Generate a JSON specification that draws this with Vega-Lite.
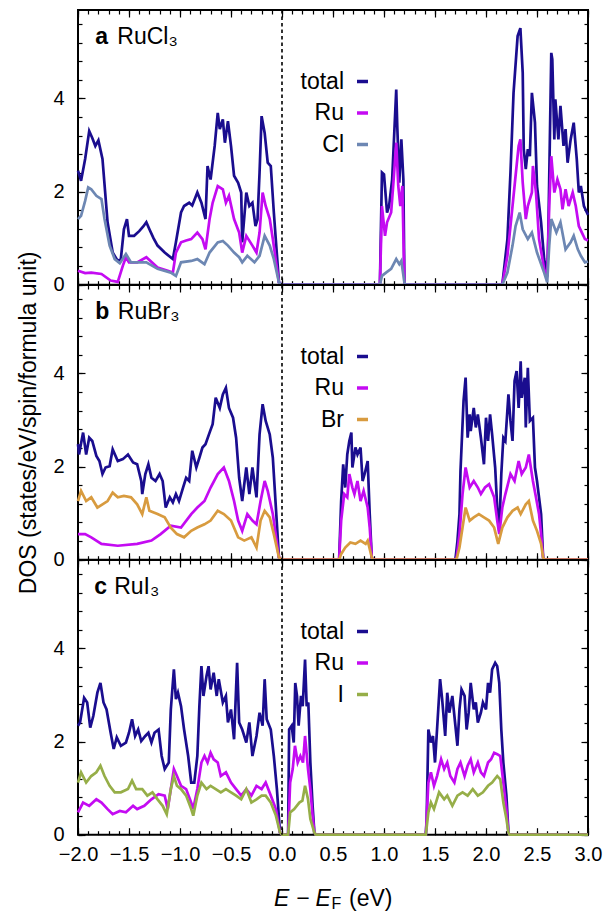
{
"$schema": "https://vega.github.io/schema/vega-lite/v6.json",
"padding": {"left": 16, "top": 8, "right": 5, "bottom": 0},
"config": {"font": "Liberation Sans", "view": {"stroke": "black", "strokeWidth": 2}, "axis": {"domain": false, "grid": false, "tickColor": "black", "tickWidth": 1.2, "labelFont": "Liberation Sans", "labelFontSize": 20, "labelColor": "black", "labels": false, "labelFlush": false, "labelOverlap": false}},
"datasets": {
"one": [{}],
"a": [
{"s":"total","x":-2.0,"y":2.45},{"s":"total","x":-1.97,"y":2.23},{"s":"total","x":-1.93,"y":2.7},{"s":"total","x":-1.89,"y":3.3},{"s":"total","x":-1.86,"y":3.15},{"s":"total","x":-1.83,"y":2.98},{"s":"total","x":-1.8,"y":3.1},{"s":"total","x":-1.76,"y":2.7},{"s":"total","x":-1.71,"y":1.34},{"s":"total","x":-1.66,"y":0.69},{"s":"total","x":-1.61,"y":0.51},{"s":"total","x":-1.58,"y":0.55},{"s":"total","x":-1.55,"y":1.19},{"s":"total","x":-1.52,"y":1.41},{"s":"total","x":-1.5,"y":1.05},{"s":"total","x":-1.45,"y":1.05},{"s":"total","x":-1.4,"y":1.15},{"s":"total","x":-1.36,"y":1.25},{"s":"total","x":-1.33,"y":1.34},{"s":"total","x":-1.3,"y":1.19},{"s":"total","x":-1.26,"y":1.0},{"s":"total","x":-1.22,"y":0.84},{"s":"total","x":-1.15,"y":0.69},{"s":"total","x":-1.07,"y":0.55},{"s":"total","x":-1.04,"y":0.91},{"s":"total","x":-0.99,"y":1.55},{"s":"total","x":-0.96,"y":1.69},{"s":"total","x":-0.91,"y":1.76},{"s":"total","x":-0.88,"y":1.7},{"s":"total","x":-0.83,"y":1.98},{"s":"total","x":-0.79,"y":1.76},{"s":"total","x":-0.75,"y":1.41},{"s":"total","x":-0.73,"y":2.55},{"s":"total","x":-0.7,"y":2.26},{"s":"total","x":-0.66,"y":2.98},{"s":"total","x":-0.63,"y":3.69},{"s":"total","x":-0.61,"y":3.34},{"s":"total","x":-0.58,"y":3.55},{"s":"total","x":-0.56,"y":3.05},{"s":"total","x":-0.53,"y":3.51},{"s":"total","x":-0.5,"y":2.98},{"s":"total","x":-0.47,"y":2.34},{"s":"total","x":-0.43,"y":2.19},{"s":"total","x":-0.4,"y":1.98},{"s":"total","x":-0.39,"y":0.91},{"s":"total","x":-0.35,"y":1.98},{"s":"total","x":-0.32,"y":1.69},{"s":"total","x":-0.29,"y":1.76},{"s":"total","x":-0.26,"y":1.26},{"s":"total","x":-0.24,"y":1.4},{"s":"total","x":-0.22,"y":2.41},{"s":"total","x":-0.2,"y":3.62},{"s":"total","x":-0.17,"y":3.26},{"s":"total","x":-0.14,"y":2.62},{"s":"total","x":-0.11,"y":2.55},{"s":"total","x":-0.08,"y":1.55},{"s":"total","x":-0.03,"y":0.05},{"s":"total","x":0.0,"y":0},{"s":"total","x":0.96,"y":0},{"s":"total","x":0.98,"y":2.41},{"s":"total","x":1.0,"y":2.37},{"s":"total","x":1.03,"y":1.55},{"s":"total","x":1.05,"y":1.69},{"s":"total","x":1.08,"y":2.26},{"s":"total","x":1.12,"y":4.19},{"s":"total","x":1.13,"y":3.41},{"s":"total","x":1.15,"y":2.19},{"s":"total","x":1.17,"y":3.12},{"s":"total","x":1.19,"y":2.26},{"s":"total","x":1.2,"y":0.05},{"s":"total","x":1.21,"y":0},{"s":"total","x":2.16,"y":0},{"s":"total","x":2.21,"y":0.98},{"s":"total","x":2.24,"y":2.41},{"s":"total","x":2.27,"y":4.12},{"s":"total","x":2.31,"y":5.34},{"s":"total","x":2.337,"y":5.51},{"s":"total","x":2.36,"y":4.55},{"s":"total","x":2.37,"y":2.91},{"s":"total","x":2.39,"y":2.48},{"s":"total","x":2.41,"y":2.91},{"s":"total","x":2.43,"y":2.76},{"s":"total","x":2.45,"y":4.12},{"s":"total","x":2.48,"y":3.48},{"s":"total","x":2.5,"y":2.12},{"s":"total","x":2.54,"y":1.34},{"s":"total","x":2.57,"y":0.55},{"s":"total","x":2.6,"y":0.19},{"s":"total","x":2.61,"y":0.98},{"s":"total","x":2.64,"y":4.98},{"s":"total","x":2.65,"y":4.84},{"s":"total","x":2.67,"y":3.12},{"s":"total","x":2.68,"y":3.98},{"s":"total","x":2.71,"y":3.12},{"s":"total","x":2.73,"y":3.84},{"s":"total","x":2.76,"y":2.98},{"s":"total","x":2.78,"y":3.34},{"s":"total","x":2.8,"y":2.62},{"s":"total","x":2.83,"y":3.12},{"s":"total","x":2.86,"y":3.48},{"s":"total","x":2.89,"y":2.69},{"s":"total","x":2.91,"y":1.98},{"s":"total","x":2.93,"y":2.12},{"s":"total","x":2.96,"y":1.69},{"s":"total","x":3.0,"y":1.5},
{"s":"Ru","x":-2.0,"y":0.3},{"s":"Ru","x":-1.93,"y":0.25},{"s":"Ru","x":-1.87,"y":0.26},{"s":"Ru","x":-1.77,"y":0.23},{"s":"Ru","x":-1.68,"y":0.09},{"s":"Ru","x":-1.61,"y":0.06},{"s":"Ru","x":-1.56,"y":0.41},{"s":"Ru","x":-1.53,"y":0.59},{"s":"Ru","x":-1.5,"y":0.48},{"s":"Ru","x":-1.42,"y":0.48},{"s":"Ru","x":-1.33,"y":0.59},{"s":"Ru","x":-1.22,"y":0.37},{"s":"Ru","x":-1.12,"y":0.3},{"s":"Ru","x":-1.07,"y":0.26},{"s":"Ru","x":-1.04,"y":0.69},{"s":"Ru","x":-0.99,"y":0.91},{"s":"Ru","x":-0.94,"y":0.95},{"s":"Ru","x":-0.89,"y":0.98},{"s":"Ru","x":-0.83,"y":1.12},{"s":"Ru","x":-0.78,"y":0.98},{"s":"Ru","x":-0.75,"y":0.76},{"s":"Ru","x":-0.71,"y":1.41},{"s":"Ru","x":-0.68,"y":1.76},{"s":"Ru","x":-0.63,"y":2.12},{"s":"Ru","x":-0.58,"y":2.05},{"s":"Ru","x":-0.55,"y":1.76},{"s":"Ru","x":-0.52,"y":1.91},{"s":"Ru","x":-0.47,"y":1.41},{"s":"Ru","x":-0.42,"y":1.12},{"s":"Ru","x":-0.39,"y":0.69},{"s":"Ru","x":-0.35,"y":1.05},{"s":"Ru","x":-0.29,"y":0.84},{"s":"Ru","x":-0.25,"y":0.69},{"s":"Ru","x":-0.22,"y":1.12},{"s":"Ru","x":-0.19,"y":1.98},{"s":"Ru","x":-0.16,"y":1.69},{"s":"Ru","x":-0.12,"y":1.41},{"s":"Ru","x":-0.09,"y":0.98},{"s":"Ru","x":-0.03,"y":0.05},{"s":"Ru","x":0.0,"y":0},{"s":"Ru","x":0.96,"y":0},{"s":"Ru","x":0.98,"y":1.69},{"s":"Ru","x":1.01,"y":1.05},{"s":"Ru","x":1.03,"y":1.34},{"s":"Ru","x":1.07,"y":1.55},{"s":"Ru","x":1.09,"y":2.12},{"s":"Ru","x":1.12,"y":3.05},{"s":"Ru","x":1.14,"y":2.12},{"s":"Ru","x":1.16,"y":1.69},{"s":"Ru","x":1.18,"y":2.12},{"s":"Ru","x":1.2,"y":0.05},{"s":"Ru","x":1.21,"y":0},{"s":"Ru","x":2.16,"y":0},{"s":"Ru","x":2.21,"y":0.62},{"s":"Ru","x":2.26,"y":1.69},{"s":"Ru","x":2.29,"y":2.34},{"s":"Ru","x":2.32,"y":2.98},{"s":"Ru","x":2.337,"y":3.12},{"s":"Ru","x":2.36,"y":2.19},{"s":"Ru","x":2.39,"y":1.41},{"s":"Ru","x":2.41,"y":1.69},{"s":"Ru","x":2.45,"y":1.98},{"s":"Ru","x":2.46,"y":2.55},{"s":"Ru","x":2.49,"y":1.98},{"s":"Ru","x":2.52,"y":0.98},{"s":"Ru","x":2.57,"y":0.34},{"s":"Ru","x":2.6,"y":0.16},{"s":"Ru","x":2.62,"y":1.69},{"s":"Ru","x":2.64,"y":2.76},{"s":"Ru","x":2.67,"y":1.98},{"s":"Ru","x":2.7,"y":2.26},{"s":"Ru","x":2.73,"y":2.05},{"s":"Ru","x":2.75,"y":1.62},{"s":"Ru","x":2.78,"y":2.05},{"s":"Ru","x":2.81,"y":1.69},{"s":"Ru","x":2.85,"y":1.98},{"s":"Ru","x":2.88,"y":1.69},{"s":"Ru","x":2.91,"y":1.26},{"s":"Ru","x":2.94,"y":1.12},{"s":"Ru","x":2.97,"y":0.98},{"s":"Ru","x":3.0,"y":0.95},
{"s":"Cl","x":-2.0,"y":1.41},{"s":"Cl","x":-1.97,"y":1.48},{"s":"Cl","x":-1.93,"y":1.8},{"s":"Cl","x":-1.9,"y":2.09},{"s":"Cl","x":-1.87,"y":2.05},{"s":"Cl","x":-1.82,"y":1.91},{"s":"Cl","x":-1.77,"y":1.84},{"s":"Cl","x":-1.74,"y":1.41},{"s":"Cl","x":-1.69,"y":0.84},{"s":"Cl","x":-1.64,"y":0.55},{"s":"Cl","x":-1.59,"y":0.46},{"s":"Cl","x":-1.53,"y":0.66},{"s":"Cl","x":-1.48,"y":0.48},{"s":"Cl","x":-1.33,"y":0.48},{"s":"Cl","x":-1.22,"y":0.34},{"s":"Cl","x":-1.09,"y":0.26},{"s":"Cl","x":-1.04,"y":0.19},{"s":"Cl","x":-0.99,"y":0.48},{"s":"Cl","x":-0.89,"y":0.51},{"s":"Cl","x":-0.83,"y":0.55},{"s":"Cl","x":-0.76,"y":0.44},{"s":"Cl","x":-0.71,"y":0.69},{"s":"Cl","x":-0.63,"y":0.91},{"s":"Cl","x":-0.58,"y":0.94},{"s":"Cl","x":-0.53,"y":0.84},{"s":"Cl","x":-0.47,"y":0.69},{"s":"Cl","x":-0.42,"y":0.59},{"s":"Cl","x":-0.39,"y":0.48},{"s":"Cl","x":-0.34,"y":0.62},{"s":"Cl","x":-0.27,"y":0.48},{"s":"Cl","x":-0.22,"y":0.62},{"s":"Cl","x":-0.17,"y":1.05},{"s":"Cl","x":-0.12,"y":0.84},{"s":"Cl","x":-0.08,"y":0.55},{"s":"Cl","x":-0.03,"y":0.05},{"s":"Cl","x":0.0,"y":0},{"s":"Cl","x":0.96,"y":0},{"s":"Cl","x":0.98,"y":0.19},{"s":"Cl","x":1.02,"y":0.26},{"s":"Cl","x":1.07,"y":0.34},{"s":"Cl","x":1.12,"y":0.55},{"s":"Cl","x":1.15,"y":0.44},{"s":"Cl","x":1.17,"y":0.51},{"s":"Cl","x":1.2,"y":0.05},{"s":"Cl","x":1.21,"y":0},{"s":"Cl","x":2.16,"y":0},{"s":"Cl","x":2.21,"y":0.26},{"s":"Cl","x":2.26,"y":0.84},{"s":"Cl","x":2.29,"y":1.26},{"s":"Cl","x":2.33,"y":1.55},{"s":"Cl","x":2.36,"y":1.19},{"s":"Cl","x":2.41,"y":0.98},{"s":"Cl","x":2.45,"y":1.12},{"s":"Cl","x":2.5,"y":0.69},{"s":"Cl","x":2.57,"y":0.26},{"s":"Cl","x":2.6,"y":0.05},{"s":"Cl","x":2.62,"y":0.84},{"s":"Cl","x":2.64,"y":1.41},{"s":"Cl","x":2.69,"y":1.12},{"s":"Cl","x":2.73,"y":1.34},{"s":"Cl","x":2.78,"y":0.76},{"s":"Cl","x":2.83,"y":0.91},{"s":"Cl","x":2.86,"y":1.05},{"s":"Cl","x":2.9,"y":0.76},{"s":"Cl","x":2.93,"y":0.62},{"s":"Cl","x":2.97,"y":0.48},{"s":"Cl","x":3.0,"y":0.5}
],
"b": [
{"s":"total","x":-2.0,"y":2.48},{"s":"total","x":-1.99,"y":2.26},{"s":"total","x":-1.95,"y":2.73},{"s":"total","x":-1.92,"y":2.26},{"s":"total","x":-1.89,"y":2.62},{"s":"total","x":-1.86,"y":2.55},{"s":"total","x":-1.82,"y":2.23},{"s":"total","x":-1.79,"y":2.12},{"s":"total","x":-1.76,"y":1.84},{"s":"total","x":-1.73,"y":1.98},{"s":"total","x":-1.69,"y":2.01},{"s":"total","x":-1.66,"y":2.37},{"s":"total","x":-1.61,"y":2.12},{"s":"total","x":-1.56,"y":2.16},{"s":"total","x":-1.51,"y":2.26},{"s":"total","x":-1.46,"y":2.09},{"s":"total","x":-1.42,"y":2.05},{"s":"total","x":-1.38,"y":1.69},{"s":"total","x":-1.37,"y":1.41},{"s":"total","x":-1.34,"y":1.84},{"s":"total","x":-1.31,"y":2.05},{"s":"total","x":-1.28,"y":1.76},{"s":"total","x":-1.24,"y":1.69},{"s":"total","x":-1.2,"y":1.84},{"s":"total","x":-1.17,"y":1.69},{"s":"total","x":-1.14,"y":1.12},{"s":"total","x":-1.1,"y":1.34},{"s":"total","x":-1.07,"y":1.23},{"s":"total","x":-1.04,"y":1.41},{"s":"total","x":-1.01,"y":1.26},{"s":"total","x":-0.97,"y":1.55},{"s":"total","x":-0.94,"y":1.76},{"s":"total","x":-0.91,"y":1.69},{"s":"total","x":-0.88,"y":2.34},{"s":"total","x":-0.84,"y":1.98},{"s":"total","x":-0.81,"y":2.19},{"s":"total","x":-0.78,"y":2.41},{"s":"total","x":-0.75,"y":2.48},{"s":"total","x":-0.71,"y":2.73},{"s":"total","x":-0.68,"y":2.91},{"s":"total","x":-0.65,"y":3.48},{"s":"total","x":-0.61,"y":3.26},{"s":"total","x":-0.58,"y":3.55},{"s":"total","x":-0.55,"y":3.69},{"s":"total","x":-0.52,"y":3.26},{"s":"total","x":-0.48,"y":3.05},{"s":"total","x":-0.45,"y":2.62},{"s":"total","x":-0.42,"y":1.76},{"s":"total","x":-0.39,"y":1.26},{"s":"total","x":-0.35,"y":1.98},{"s":"total","x":-0.32,"y":1.41},{"s":"total","x":-0.29,"y":1.98},{"s":"total","x":-0.25,"y":1.34},{"s":"total","x":-0.22,"y":2.69},{"s":"total","x":-0.19,"y":3.34},{"s":"total","x":-0.16,"y":2.98},{"s":"total","x":-0.12,"y":2.69},{"s":"total","x":-0.09,"y":2.19},{"s":"total","x":-0.06,"y":1.12},{"s":"total","x":-0.03,"y":0.05},{"s":"total","x":0.0,"y":0},{"s":"total","x":0.56,"y":0},{"s":"total","x":0.58,"y":1.26},{"s":"total","x":0.6,"y":2.05},{"s":"total","x":0.62,"y":1.55},{"s":"total","x":0.64,"y":2.26},{"s":"total","x":0.66,"y":2.55},{"s":"total","x":0.68,"y":2.73},{"s":"total","x":0.69,"y":1.98},{"s":"total","x":0.72,"y":2.41},{"s":"total","x":0.74,"y":2.26},{"s":"total","x":0.77,"y":2.41},{"s":"total","x":0.79,"y":1.69},{"s":"total","x":0.81,"y":1.84},{"s":"total","x":0.84,"y":2.12},{"s":"total","x":0.86,"y":0.98},{"s":"total","x":0.88,"y":0.05},{"s":"total","x":0.89,"y":0},{"s":"total","x":1.7,"y":0},{"s":"total","x":1.72,"y":0.4},{"s":"total","x":1.74,"y":0.98},{"s":"total","x":1.75,"y":1.91},{"s":"total","x":1.78,"y":3.41},{"s":"total","x":1.8,"y":3.91},{"s":"total","x":1.82,"y":2.62},{"s":"total","x":1.84,"y":3.12},{"s":"total","x":1.85,"y":2.76},{"s":"total","x":1.88,"y":3.26},{"s":"total","x":1.9,"y":2.84},{"s":"total","x":1.92,"y":3.12},{"s":"total","x":1.95,"y":2.62},{"s":"total","x":1.98,"y":2.05},{"s":"total","x":2.0,"y":3.05},{"s":"total","x":2.02,"y":2.55},{"s":"total","x":2.04,"y":3.12},{"s":"total","x":2.06,"y":2.69},{"s":"total","x":2.09,"y":1.98},{"s":"total","x":2.11,"y":1.12},{"s":"total","x":2.13,"y":0.62},{"s":"total","x":2.15,"y":1.84},{"s":"total","x":2.17,"y":2.62},{"s":"total","x":2.19,"y":2.55},{"s":"total","x":2.22,"y":3.55},{"s":"total","x":2.24,"y":2.98},{"s":"total","x":2.26,"y":2.55},{"s":"total","x":2.28,"y":3.84},{"s":"total","x":2.3,"y":4.05},{"s":"total","x":2.32,"y":3.26},{"s":"total","x":2.34,"y":4.26},{"s":"total","x":2.35,"y":3.48},{"s":"total","x":2.38,"y":3.91},{"s":"total","x":2.39,"y":2.84},{"s":"total","x":2.41,"y":4.12},{"s":"total","x":2.43,"y":2.98},{"s":"total","x":2.46,"y":3.05},{"s":"total","x":2.48,"y":1.98},{"s":"total","x":2.5,"y":1.69},{"s":"total","x":2.52,"y":1.34},{"s":"total","x":2.54,"y":0.98},{"s":"total","x":2.56,"y":0.05},{"s":"total","x":2.57,"y":0},{"s":"total","x":3.0,"y":0},
{"s":"Ru","x":-2.0,"y":0.55},{"s":"Ru","x":-1.93,"y":0.55},{"s":"Ru","x":-1.87,"y":0.48},{"s":"Ru","x":-1.77,"y":0.34},{"s":"Ru","x":-1.61,"y":0.3},{"s":"Ru","x":-1.42,"y":0.34},{"s":"Ru","x":-1.28,"y":0.41},{"s":"Ru","x":-1.19,"y":0.55},{"s":"Ru","x":-1.09,"y":0.73},{"s":"Ru","x":-0.99,"y":0.69},{"s":"Ru","x":-0.89,"y":0.98},{"s":"Ru","x":-0.83,"y":1.12},{"s":"Ru","x":-0.76,"y":1.26},{"s":"Ru","x":-0.7,"y":1.55},{"s":"Ru","x":-0.63,"y":1.84},{"s":"Ru","x":-0.57,"y":1.98},{"s":"Ru","x":-0.52,"y":1.69},{"s":"Ru","x":-0.47,"y":1.26},{"s":"Ru","x":-0.43,"y":0.84},{"s":"Ru","x":-0.39,"y":0.62},{"s":"Ru","x":-0.34,"y":0.98},{"s":"Ru","x":-0.29,"y":0.84},{"s":"Ru","x":-0.25,"y":0.76},{"s":"Ru","x":-0.21,"y":1.26},{"s":"Ru","x":-0.17,"y":1.69},{"s":"Ru","x":-0.14,"y":1.48},{"s":"Ru","x":-0.09,"y":0.98},{"s":"Ru","x":-0.03,"y":0.05},{"s":"Ru","x":0.0,"y":0},{"s":"Ru","x":0.56,"y":0},{"s":"Ru","x":0.58,"y":0.84},{"s":"Ru","x":0.61,"y":1.41},{"s":"Ru","x":0.64,"y":1.34},{"s":"Ru","x":0.66,"y":1.84},{"s":"Ru","x":0.69,"y":1.55},{"s":"Ru","x":0.71,"y":1.41},{"s":"Ru","x":0.74,"y":1.69},{"s":"Ru","x":0.77,"y":1.26},{"s":"Ru","x":0.8,"y":1.48},{"s":"Ru","x":0.84,"y":1.12},{"s":"Ru","x":0.86,"y":0.69},{"s":"Ru","x":0.88,"y":0.05},{"s":"Ru","x":0.89,"y":0},{"s":"Ru","x":1.71,"y":0},{"s":"Ru","x":1.74,"y":0.55},{"s":"Ru","x":1.77,"y":1.41},{"s":"Ru","x":1.8,"y":1.98},{"s":"Ru","x":1.84,"y":1.55},{"s":"Ru","x":1.88,"y":1.69},{"s":"Ru","x":1.92,"y":1.55},{"s":"Ru","x":1.95,"y":1.41},{"s":"Ru","x":1.99,"y":1.55},{"s":"Ru","x":2.03,"y":1.62},{"s":"Ru","x":2.08,"y":1.34},{"s":"Ru","x":2.11,"y":0.84},{"s":"Ru","x":2.13,"y":0.55},{"s":"Ru","x":2.16,"y":1.12},{"s":"Ru","x":2.19,"y":1.41},{"s":"Ru","x":2.24,"y":1.84},{"s":"Ru","x":2.28,"y":1.69},{"s":"Ru","x":2.32,"y":2.12},{"s":"Ru","x":2.35,"y":1.84},{"s":"Ru","x":2.39,"y":1.98},{"s":"Ru","x":2.42,"y":2.26},{"s":"Ru","x":2.46,"y":1.69},{"s":"Ru","x":2.49,"y":1.34},{"s":"Ru","x":2.52,"y":0.98},{"s":"Ru","x":2.54,"y":0.55},{"s":"Ru","x":2.56,"y":0.05},{"s":"Ru","x":2.57,"y":0},{"s":"Ru","x":3.0,"y":0},
{"s":"Br","x":-2.0,"y":1.26},{"s":"Br","x":-1.97,"y":1.48},{"s":"Br","x":-1.92,"y":1.26},{"s":"Br","x":-1.87,"y":1.34},{"s":"Br","x":-1.81,"y":1.12},{"s":"Br","x":-1.76,"y":1.19},{"s":"Br","x":-1.71,"y":1.26},{"s":"Br","x":-1.66,"y":1.44},{"s":"Br","x":-1.61,"y":1.34},{"s":"Br","x":-1.55,"y":1.37},{"s":"Br","x":-1.48,"y":1.34},{"s":"Br","x":-1.42,"y":1.19},{"s":"Br","x":-1.37,"y":0.98},{"s":"Br","x":-1.33,"y":1.34},{"s":"Br","x":-1.3,"y":1.05},{"s":"Br","x":-1.22,"y":0.98},{"s":"Br","x":-1.15,"y":0.91},{"s":"Br","x":-1.09,"y":0.69},{"s":"Br","x":-1.03,"y":0.55},{"s":"Br","x":-0.96,"y":0.48},{"s":"Br","x":-0.89,"y":0.62},{"s":"Br","x":-0.83,"y":0.69},{"s":"Br","x":-0.76,"y":0.76},{"s":"Br","x":-0.7,"y":0.84},{"s":"Br","x":-0.63,"y":1.05},{"s":"Br","x":-0.57,"y":0.98},{"s":"Br","x":-0.5,"y":0.84},{"s":"Br","x":-0.43,"y":0.48},{"s":"Br","x":-0.37,"y":0.41},{"s":"Br","x":-0.3,"y":0.48},{"s":"Br","x":-0.25,"y":0.26},{"s":"Br","x":-0.21,"y":0.84},{"s":"Br","x":-0.17,"y":1.05},{"s":"Br","x":-0.12,"y":0.91},{"s":"Br","x":-0.08,"y":0.55},{"s":"Br","x":-0.03,"y":0.05},{"s":"Br","x":0.0,"y":0},{"s":"Br","x":0.56,"y":0},{"s":"Br","x":0.58,"y":0.12},{"s":"Br","x":0.62,"y":0.26},{"s":"Br","x":0.67,"y":0.37},{"s":"Br","x":0.72,"y":0.34},{"s":"Br","x":0.77,"y":0.41},{"s":"Br","x":0.82,"y":0.34},{"s":"Br","x":0.84,"y":0.41},{"s":"Br","x":0.88,"y":0.05},{"s":"Br","x":0.89,"y":0},{"s":"Br","x":1.71,"y":0},{"s":"Br","x":1.74,"y":0.26},{"s":"Br","x":1.77,"y":0.69},{"s":"Br","x":1.8,"y":1.12},{"s":"Br","x":1.84,"y":0.84},{"s":"Br","x":1.88,"y":0.91},{"s":"Br","x":1.93,"y":0.98},{"s":"Br","x":1.98,"y":0.91},{"s":"Br","x":2.03,"y":0.84},{"s":"Br","x":2.08,"y":0.69},{"s":"Br","x":2.12,"y":0.34},{"s":"Br","x":2.16,"y":0.69},{"s":"Br","x":2.21,"y":0.91},{"s":"Br","x":2.26,"y":1.05},{"s":"Br","x":2.31,"y":1.12},{"s":"Br","x":2.34,"y":0.98},{"s":"Br","x":2.39,"y":1.19},{"s":"Br","x":2.42,"y":1.26},{"s":"Br","x":2.46,"y":0.84},{"s":"Br","x":2.5,"y":0.62},{"s":"Br","x":2.54,"y":0.34},{"s":"Br","x":2.56,"y":0.05},{"s":"Br","x":2.57,"y":0},{"s":"Br","x":3.0,"y":0}
],
"c": [
{"s":"total","x":-2.0,"y":2.34},{"s":"total","x":-1.98,"y":2.41},{"s":"total","x":-1.94,"y":2.94},{"s":"total","x":-1.91,"y":2.84},{"s":"total","x":-1.88,"y":2.3},{"s":"total","x":-1.85,"y":2.55},{"s":"total","x":-1.81,"y":3.05},{"s":"total","x":-1.78,"y":3.26},{"s":"total","x":-1.75,"y":2.84},{"s":"total","x":-1.72,"y":2.69},{"s":"total","x":-1.68,"y":2.19},{"s":"total","x":-1.65,"y":1.84},{"s":"total","x":-1.62,"y":2.09},{"s":"total","x":-1.58,"y":1.91},{"s":"total","x":-1.53,"y":1.98},{"s":"total","x":-1.5,"y":2.19},{"s":"total","x":-1.47,"y":2.48},{"s":"total","x":-1.44,"y":2.12},{"s":"total","x":-1.41,"y":2.26},{"s":"total","x":-1.38,"y":2.01},{"s":"total","x":-1.34,"y":2.12},{"s":"total","x":-1.31,"y":2.19},{"s":"total","x":-1.28,"y":1.98},{"s":"total","x":-1.25,"y":2.19},{"s":"total","x":-1.21,"y":2.26},{"s":"total","x":-1.18,"y":1.69},{"s":"total","x":-1.15,"y":1.41},{"s":"total","x":-1.11,"y":1.55},{"s":"total","x":-1.09,"y":2.69},{"s":"total","x":-1.06,"y":3.55},{"s":"total","x":-1.04,"y":2.91},{"s":"total","x":-1.02,"y":3.05},{"s":"total","x":-0.99,"y":2.76},{"s":"total","x":-0.96,"y":2.26},{"s":"total","x":-0.92,"y":1.69},{"s":"total","x":-0.89,"y":1.12},{"s":"total","x":-0.86,"y":1.12},{"s":"total","x":-0.83,"y":1.69},{"s":"total","x":-0.81,"y":2.76},{"s":"total","x":-0.79,"y":3.62},{"s":"total","x":-0.77,"y":2.98},{"s":"total","x":-0.74,"y":3.41},{"s":"total","x":-0.72,"y":3.62},{"s":"total","x":-0.7,"y":3.12},{"s":"total","x":-0.67,"y":3.48},{"s":"total","x":-0.64,"y":2.98},{"s":"total","x":-0.62,"y":3.34},{"s":"total","x":-0.58,"y":2.84},{"s":"total","x":-0.55,"y":2.98},{"s":"total","x":-0.53,"y":2.41},{"s":"total","x":-0.5,"y":2.69},{"s":"total","x":-0.47,"y":2.05},{"s":"total","x":-0.44,"y":3.69},{"s":"total","x":-0.42,"y":2.41},{"s":"total","x":-0.39,"y":2.26},{"s":"total","x":-0.35,"y":1.98},{"s":"total","x":-0.32,"y":2.41},{"s":"total","x":-0.29,"y":1.69},{"s":"total","x":-0.25,"y":2.12},{"s":"total","x":-0.22,"y":2.62},{"s":"total","x":-0.19,"y":2.34},{"s":"total","x":-0.17,"y":3.34},{"s":"total","x":-0.15,"y":2.48},{"s":"total","x":-0.11,"y":2.26},{"s":"total","x":-0.08,"y":1.69},{"s":"total","x":-0.05,"y":0.98},{"s":"total","x":-0.02,"y":0.05},{"s":"total","x":0.0,"y":0},{"s":"total","x":0.06,"y":0},{"s":"total","x":0.07,"y":2.26},{"s":"total","x":0.095,"y":2.34},{"s":"total","x":0.115,"y":1.98},{"s":"total","x":0.13,"y":3.26},{"s":"total","x":0.147,"y":2.98},{"s":"total","x":0.163,"y":2.34},{"s":"total","x":0.186,"y":2.98},{"s":"total","x":0.203,"y":2.76},{"s":"total","x":0.226,"y":3.76},{"s":"total","x":0.242,"y":2.76},{"s":"total","x":0.258,"y":2.84},{"s":"total","x":0.278,"y":1.55},{"s":"total","x":0.3,"y":0.62},{"s":"total","x":0.317,"y":0.05},{"s":"total","x":0.33,"y":0},{"s":"total","x":1.41,"y":0},{"s":"total","x":1.418,"y":0.3},{"s":"total","x":1.435,"y":2.26},{"s":"total","x":1.46,"y":1.98},{"s":"total","x":1.48,"y":2.12},{"s":"total","x":1.5,"y":1.55},{"s":"total","x":1.52,"y":2.26},{"s":"total","x":1.55,"y":3.34},{"s":"total","x":1.57,"y":2.91},{"s":"total","x":1.6,"y":2.12},{"s":"total","x":1.62,"y":3.05},{"s":"total","x":1.64,"y":2.62},{"s":"total","x":1.67,"y":2.98},{"s":"total","x":1.7,"y":2.34},{"s":"total","x":1.72,"y":1.91},{"s":"total","x":1.74,"y":2.69},{"s":"total","x":1.76,"y":3.12},{"s":"total","x":1.79,"y":2.98},{"s":"total","x":1.81,"y":2.26},{"s":"total","x":1.83,"y":2.62},{"s":"total","x":1.85,"y":3.26},{"s":"total","x":1.88,"y":2.69},{"s":"total","x":1.9,"y":2.84},{"s":"total","x":1.92,"y":2.41},{"s":"total","x":1.95,"y":2.62},{"s":"total","x":1.97,"y":2.84},{"s":"total","x":2.0,"y":2.69},{"s":"total","x":2.02,"y":3.26},{"s":"total","x":2.04,"y":3.05},{"s":"total","x":2.06,"y":3.55},{"s":"total","x":2.09,"y":3.69},{"s":"total","x":2.11,"y":3.62},{"s":"total","x":2.13,"y":3.26},{"s":"total","x":2.15,"y":2.26},{"s":"total","x":2.17,"y":1.55},{"s":"total","x":2.2,"y":0.84},{"s":"total","x":2.22,"y":0.05},{"s":"total","x":2.23,"y":0},{"s":"total","x":3.0,"y":0},
{"s":"Ru","x":-2.0,"y":0.48},{"s":"Ru","x":-1.95,"y":0.69},{"s":"Ru","x":-1.89,"y":0.62},{"s":"Ru","x":-1.82,"y":0.76},{"s":"Ru","x":-1.77,"y":0.69},{"s":"Ru","x":-1.71,"y":0.55},{"s":"Ru","x":-1.66,"y":0.44},{"s":"Ru","x":-1.59,"y":0.51},{"s":"Ru","x":-1.53,"y":0.48},{"s":"Ru","x":-1.46,"y":0.62},{"s":"Ru","x":-1.42,"y":0.55},{"s":"Ru","x":-1.35,"y":0.62},{"s":"Ru","x":-1.28,"y":0.76},{"s":"Ru","x":-1.21,"y":0.87},{"s":"Ru","x":-1.15,"y":0.84},{"s":"Ru","x":-1.12,"y":0.55},{"s":"Ru","x":-1.09,"y":0.98},{"s":"Ru","x":-1.06,"y":1.41},{"s":"Ru","x":-1.03,"y":1.26},{"s":"Ru","x":-0.99,"y":1.05},{"s":"Ru","x":-0.94,"y":0.98},{"s":"Ru","x":-0.89,"y":0.69},{"s":"Ru","x":-0.87,"y":0.55},{"s":"Ru","x":-0.83,"y":0.98},{"s":"Ru","x":-0.79,"y":1.55},{"s":"Ru","x":-0.76,"y":1.69},{"s":"Ru","x":-0.73,"y":1.55},{"s":"Ru","x":-0.7,"y":1.76},{"s":"Ru","x":-0.67,"y":1.62},{"s":"Ru","x":-0.63,"y":1.55},{"s":"Ru","x":-0.6,"y":1.26},{"s":"Ru","x":-0.55,"y":1.34},{"s":"Ru","x":-0.5,"y":1.12},{"s":"Ru","x":-0.45,"y":0.98},{"s":"Ru","x":-0.4,"y":0.84},{"s":"Ru","x":-0.35,"y":0.98},{"s":"Ru","x":-0.3,"y":0.84},{"s":"Ru","x":-0.25,"y":1.05},{"s":"Ru","x":-0.2,"y":0.98},{"s":"Ru","x":-0.16,"y":1.12},{"s":"Ru","x":-0.11,"y":0.84},{"s":"Ru","x":-0.06,"y":0.55},{"s":"Ru","x":-0.02,"y":0.05},{"s":"Ru","x":0.0,"y":0},{"s":"Ru","x":0.06,"y":0},{"s":"Ru","x":0.08,"y":1.12},{"s":"Ru","x":0.105,"y":1.41},{"s":"Ru","x":0.127,"y":1.91},{"s":"Ru","x":0.154,"y":1.55},{"s":"Ru","x":0.18,"y":1.69},{"s":"Ru","x":0.206,"y":1.55},{"s":"Ru","x":0.226,"y":2.12},{"s":"Ru","x":0.255,"y":1.41},{"s":"Ru","x":0.278,"y":0.98},{"s":"Ru","x":0.3,"y":0.41},{"s":"Ru","x":0.317,"y":0.05},{"s":"Ru","x":0.33,"y":0},{"s":"Ru","x":1.41,"y":0},{"s":"Ru","x":1.435,"y":1.12},{"s":"Ru","x":1.46,"y":1.34},{"s":"Ru","x":1.49,"y":1.05},{"s":"Ru","x":1.52,"y":1.26},{"s":"Ru","x":1.56,"y":1.62},{"s":"Ru","x":1.59,"y":1.41},{"s":"Ru","x":1.62,"y":1.55},{"s":"Ru","x":1.65,"y":1.26},{"s":"Ru","x":1.69,"y":1.12},{"s":"Ru","x":1.72,"y":1.41},{"s":"Ru","x":1.75,"y":1.55},{"s":"Ru","x":1.79,"y":1.26},{"s":"Ru","x":1.82,"y":1.48},{"s":"Ru","x":1.85,"y":1.62},{"s":"Ru","x":1.88,"y":1.34},{"s":"Ru","x":1.92,"y":1.55},{"s":"Ru","x":1.95,"y":1.34},{"s":"Ru","x":1.98,"y":1.26},{"s":"Ru","x":2.02,"y":1.55},{"s":"Ru","x":2.05,"y":1.62},{"s":"Ru","x":2.08,"y":1.76},{"s":"Ru","x":2.11,"y":1.73},{"s":"Ru","x":2.14,"y":1.69},{"s":"Ru","x":2.17,"y":1.12},{"s":"Ru","x":2.2,"y":0.55},{"s":"Ru","x":2.22,"y":0.05},{"s":"Ru","x":2.23,"y":0},{"s":"Ru","x":3.0,"y":0},
{"s":"I","x":-2.0,"y":1.12},{"s":"I","x":-1.97,"y":1.34},{"s":"I","x":-1.92,"y":1.12},{"s":"I","x":-1.87,"y":1.26},{"s":"I","x":-1.82,"y":1.34},{"s":"I","x":-1.78,"y":1.48},{"s":"I","x":-1.74,"y":1.26},{"s":"I","x":-1.69,"y":1.05},{"s":"I","x":-1.64,"y":0.91},{"s":"I","x":-1.58,"y":0.91},{"s":"I","x":-1.51,"y":0.98},{"s":"I","x":-1.47,"y":1.16},{"s":"I","x":-1.43,"y":0.98},{"s":"I","x":-1.37,"y":0.98},{"s":"I","x":-1.32,"y":0.84},{"s":"I","x":-1.27,"y":0.91},{"s":"I","x":-1.22,"y":0.76},{"s":"I","x":-1.17,"y":0.62},{"s":"I","x":-1.13,"y":0.44},{"s":"I","x":-1.09,"y":0.98},{"s":"I","x":-1.06,"y":1.26},{"s":"I","x":-1.03,"y":1.05},{"s":"I","x":-0.99,"y":0.98},{"s":"I","x":-0.94,"y":0.84},{"s":"I","x":-0.89,"y":0.55},{"s":"I","x":-0.87,"y":0.41},{"s":"I","x":-0.83,"y":0.84},{"s":"I","x":-0.79,"y":1.12},{"s":"I","x":-0.74,"y":0.98},{"s":"I","x":-0.7,"y":1.05},{"s":"I","x":-0.65,"y":0.98},{"s":"I","x":-0.6,"y":0.91},{"s":"I","x":-0.55,"y":0.98},{"s":"I","x":-0.5,"y":0.91},{"s":"I","x":-0.45,"y":0.84},{"s":"I","x":-0.4,"y":0.76},{"s":"I","x":-0.35,"y":0.98},{"s":"I","x":-0.3,"y":0.69},{"s":"I","x":-0.25,"y":0.76},{"s":"I","x":-0.2,"y":0.84},{"s":"I","x":-0.16,"y":0.84},{"s":"I","x":-0.11,"y":0.69},{"s":"I","x":-0.06,"y":0.41},{"s":"I","x":-0.02,"y":0.05},{"s":"I","x":0.0,"y":0},{"s":"I","x":0.06,"y":0},{"s":"I","x":0.08,"y":0.48},{"s":"I","x":0.12,"y":0.55},{"s":"I","x":0.17,"y":0.69},{"s":"I","x":0.2,"y":0.73},{"s":"I","x":0.226,"y":1.05},{"s":"I","x":0.255,"y":0.76},{"s":"I","x":0.278,"y":0.34},{"s":"I","x":0.317,"y":0.05},{"s":"I","x":0.33,"y":0},{"s":"I","x":1.41,"y":0},{"s":"I","x":1.435,"y":0.48},{"s":"I","x":1.46,"y":0.69},{"s":"I","x":1.49,"y":0.55},{"s":"I","x":1.54,"y":0.91},{"s":"I","x":1.59,"y":0.76},{"s":"I","x":1.62,"y":0.84},{"s":"I","x":1.67,"y":0.62},{"s":"I","x":1.72,"y":0.84},{"s":"I","x":1.77,"y":0.91},{"s":"I","x":1.82,"y":0.84},{"s":"I","x":1.87,"y":0.98},{"s":"I","x":1.92,"y":0.84},{"s":"I","x":1.97,"y":0.91},{"s":"I","x":2.02,"y":1.05},{"s":"I","x":2.06,"y":1.12},{"s":"I","x":2.11,"y":1.26},{"s":"I","x":2.14,"y":1.19},{"s":"I","x":2.17,"y":0.69},{"s":"I","x":2.2,"y":0.34},{"s":"I","x":2.22,"y":0.05},{"s":"I","x":2.23,"y":0},{"s":"I","x":3.0,"y":0}
]
},
"spacing": 0,
"bounds": "flush",
"resolve": {"scale": {"color": "independent"}, "legend": {"color": "independent"}},
"vconcat": [
{
"width": 510, "height": 274.7,
"data": {"name": "a"},
"resolve": {"axis": {"x": "independent", "y": "independent"}},
"layer": [
{"mark": {"type": "line", "strokeWidth": 2.7},
"encoding": {
"x": {"field": "x", "type": "quantitative", "scale": {"domain": [-2, 3], "nice": false, "zero": false}, "axis": {"orient": "bottom", "title": null, "values": [-2,-1.5,-1,-0.5,0,0.5,1,1.5,2,2.5,3], "tickSize": -7}},
"y": {"field": "y", "type": "quantitative", "scale": {"domain": [0, 5.9], "nice": false}, "axis": {"orient": "left", "title": null, "values": [0,2,4], "tickSize": -7, "labels": true, "format": "d", "labelPadding": 21}},
"color": {"field": "s", "type": "nominal", "scale": {"domain": ["total","Ru","Cl"], "range": ["#1a0d8f","#c40bf2","#6d87b3"]}, "legend": {"orient": "none", "direction": "vertical", "legendX": 273, "legendY": 60, "title": null, "symbolType": "stroke", "symbolStrokeWidth": 3.5, "symbolSize": 121, "labelFontSize": 23, "labelColor": "black", "labelAlign": "right", "labelOffset": -30, "rowPadding": 7.5}}
}},
{"mark": {"type": "line", "opacity": 0},
"encoding": {
"x": {"field": "x", "type": "quantitative", "scale": {"domain": [-2, 3], "nice": false, "zero": false}, "axis": {"orient": "top", "title": null, "values": [-2,-1.5,-1,-0.5,0,0.5,1,1.5,2,2.5,3], "tickSize": -7}},
"y": {"field": "y", "type": "quantitative", "scale": {"domain": [0, 5.9], "nice": false}, "axis": {"orient": "right", "title": null, "values": [0,2,4], "tickSize": -7}}
}},
{"mark": {"type": "line", "opacity": 0},
"encoding": {
"x": {"field": "x", "type": "quantitative", "scale": {"domain": [-2, 3], "nice": false, "zero": false}, "axis": {"orient": "bottom", "title": null, "values": [-2,-1.9,-1.8,-1.7,-1.6,-1.5,-1.4,-1.3,-1.2,-1.1,-1,-0.9,-0.8,-0.7,-0.6,-0.5,-0.4,-0.3,-0.2,-0.1,0,0.1,0.2,0.3,0.4,0.5,0.6,0.7,0.8,0.9,1,1.1,1.2,1.3,1.4,1.5,1.6,1.7,1.8,1.9,2,2.1,2.2,2.3,2.4,2.5,2.6,2.7,2.8,2.9,3], "tickSize": -4}},
"y": {"field": "y", "type": "quantitative", "scale": {"domain": [0, 5.9], "nice": false}, "axis": {"orient": "left", "title": null, "values": [0,0.4,0.8,1.2,1.6,2,2.4,2.8,3.2,3.6,4,4.4,4.8,5.2,5.6], "tickSize": -4}}
}},
{"mark": {"type": "line", "opacity": 0},
"encoding": {
"x": {"field": "x", "type": "quantitative", "scale": {"domain": [-2, 3], "nice": false, "zero": false}, "axis": {"orient": "top", "title": null, "values": [-2,-1.9,-1.8,-1.7,-1.6,-1.5,-1.4,-1.3,-1.2,-1.1,-1,-0.9,-0.8,-0.7,-0.6,-0.5,-0.4,-0.3,-0.2,-0.1,0,0.1,0.2,0.3,0.4,0.5,0.6,0.7,0.8,0.9,1,1.1,1.2,1.3,1.4,1.5,1.6,1.7,1.8,1.9,2,2.1,2.2,2.3,2.4,2.5,2.6,2.7,2.8,2.9,3], "tickSize": -4}},
"y": {"field": "y", "type": "quantitative", "scale": {"domain": [0, 5.9], "nice": false}, "axis": {"orient": "right", "title": null, "values": [0,0.4,0.8,1.2,1.6,2,2.4,2.8,3.2,3.6,4,4.4,4.8,5.2,5.6], "tickSize": -4}}
}},
{"data": {"name": "one"}, "mark": {"type": "rule", "strokeDash": [3.5, 3], "strokeWidth": 1.6, "color": "black"},
"encoding": {"x": {"datum": 0, "type": "quantitative", "scale": {"domain": [-2, 3], "nice": false, "zero": false}, "axis": null}}},
{"data": {"name": "one"}, "mark": {"type": "text", "text": "a", "fontWeight": "bold", "fontSize": 23, "align": "left", "baseline": "alphabetic", "color": "black"},
"encoding": {"x": {"datum": -1.83, "type": "quantitative", "scale": {"domain": [-2, 3], "nice": false, "zero": false}, "axis": null}, "y": {"datum": 5.18, "type": "quantitative", "scale": {"domain": [0, 5.9], "nice": false}, "axis": null}}},
{"data": {"name": "one"}, "mark": {"type": "text", "text": "RuCl₃", "fontSize": 23, "align": "left", "baseline": "alphabetic", "color": "black"},
"encoding": {"x": {"datum": -1.615, "type": "quantitative", "scale": {"domain": [-2, 3], "nice": false, "zero": false}, "axis": null}, "y": {"datum": 5.18, "type": "quantitative", "scale": {"domain": [0, 5.9], "nice": false}, "axis": null}}}
]
},
{
"width": 510, "height": 274.7,
"data": {"name": "b"},
"resolve": {"axis": {"x": "independent", "y": "independent"}},
"layer": [
{"mark": {"type": "line", "strokeWidth": 2.7},
"encoding": {
"x": {"field": "x", "type": "quantitative", "scale": {"domain": [-2, 3], "nice": false, "zero": false}, "axis": {"orient": "bottom", "title": null, "values": [-2,-1.5,-1,-0.5,0,0.5,1,1.5,2,2.5,3], "tickSize": -7}},
"y": {"field": "y", "type": "quantitative", "scale": {"domain": [0, 5.9], "nice": false}, "axis": {"orient": "left", "title": "DOS (states/eV/spin/formula unit)", "titleFontSize": 23, "titleFontWeight": "normal", "titleColor": "black", "titlePadding": 12, "values": [0,2,4], "tickSize": -7, "labels": true, "format": "d", "labelPadding": 21}},
"color": {"field": "s", "type": "nominal", "scale": {"domain": ["total","Ru","Br"], "range": ["#1a0d8f","#c40bf2","#d89b3f"]}, "legend": {"orient": "none", "direction": "vertical", "legendX": 273, "legendY": 60, "title": null, "symbolType": "stroke", "symbolStrokeWidth": 3.5, "symbolSize": 121, "labelFontSize": 23, "labelColor": "black", "labelAlign": "right", "labelOffset": -30, "rowPadding": 7.5}}
}},
{"mark": {"type": "line", "opacity": 0},
"encoding": {
"x": {"field": "x", "type": "quantitative", "scale": {"domain": [-2, 3], "nice": false, "zero": false}, "axis": {"orient": "top", "title": null, "values": [-2,-1.5,-1,-0.5,0,0.5,1,1.5,2,2.5,3], "tickSize": -7}},
"y": {"field": "y", "type": "quantitative", "scale": {"domain": [0, 5.9], "nice": false}, "axis": {"orient": "right", "title": null, "values": [0,2,4], "tickSize": -7}}
}},
{"mark": {"type": "line", "opacity": 0},
"encoding": {
"x": {"field": "x", "type": "quantitative", "scale": {"domain": [-2, 3], "nice": false, "zero": false}, "axis": {"orient": "bottom", "title": null, "values": [-2,-1.9,-1.8,-1.7,-1.6,-1.5,-1.4,-1.3,-1.2,-1.1,-1,-0.9,-0.8,-0.7,-0.6,-0.5,-0.4,-0.3,-0.2,-0.1,0,0.1,0.2,0.3,0.4,0.5,0.6,0.7,0.8,0.9,1,1.1,1.2,1.3,1.4,1.5,1.6,1.7,1.8,1.9,2,2.1,2.2,2.3,2.4,2.5,2.6,2.7,2.8,2.9,3], "tickSize": -4}},
"y": {"field": "y", "type": "quantitative", "scale": {"domain": [0, 5.9], "nice": false}, "axis": {"orient": "left", "title": null, "values": [0,0.4,0.8,1.2,1.6,2,2.4,2.8,3.2,3.6,4,4.4,4.8,5.2,5.6], "tickSize": -4}}
}},
{"mark": {"type": "line", "opacity": 0},
"encoding": {
"x": {"field": "x", "type": "quantitative", "scale": {"domain": [-2, 3], "nice": false, "zero": false}, "axis": {"orient": "top", "title": null, "values": [-2,-1.9,-1.8,-1.7,-1.6,-1.5,-1.4,-1.3,-1.2,-1.1,-1,-0.9,-0.8,-0.7,-0.6,-0.5,-0.4,-0.3,-0.2,-0.1,0,0.1,0.2,0.3,0.4,0.5,0.6,0.7,0.8,0.9,1,1.1,1.2,1.3,1.4,1.5,1.6,1.7,1.8,1.9,2,2.1,2.2,2.3,2.4,2.5,2.6,2.7,2.8,2.9,3], "tickSize": -4}},
"y": {"field": "y", "type": "quantitative", "scale": {"domain": [0, 5.9], "nice": false}, "axis": {"orient": "right", "title": null, "values": [0,0.4,0.8,1.2,1.6,2,2.4,2.8,3.2,3.6,4,4.4,4.8,5.2,5.6], "tickSize": -4}}
}},
{"data": {"name": "one"}, "mark": {"type": "rule", "strokeDash": [3.5, 3], "strokeWidth": 1.6, "color": "black"},
"encoding": {"x": {"datum": 0, "type": "quantitative", "scale": {"domain": [-2, 3], "nice": false, "zero": false}, "axis": null}}},
{"data": {"name": "one"}, "mark": {"type": "text", "text": "b", "fontWeight": "bold", "fontSize": 23, "align": "left", "baseline": "alphabetic", "color": "black"},
"encoding": {"x": {"datum": -1.83, "type": "quantitative", "scale": {"domain": [-2, 3], "nice": false, "zero": false}, "axis": null}, "y": {"datum": 5.18, "type": "quantitative", "scale": {"domain": [0, 5.9], "nice": false}, "axis": null}}},
{"data": {"name": "one"}, "mark": {"type": "text", "text": "RuBr₃", "fontSize": 23, "align": "left", "baseline": "alphabetic", "color": "black"},
"encoding": {"x": {"datum": -1.61, "type": "quantitative", "scale": {"domain": [-2, 3], "nice": false, "zero": false}, "axis": null}, "y": {"datum": 5.18, "type": "quantitative", "scale": {"domain": [0, 5.9], "nice": false}, "axis": null}}}
]
},
{
"width": 510, "height": 274.7,
"data": {"name": "c"},
"resolve": {"axis": {"x": "independent", "y": "independent"}},
"layer": [
{"mark": {"type": "line", "strokeWidth": 2.7},
"encoding": {
"x": {"field": "x", "type": "quantitative", "scale": {"domain": [-2, 3], "nice": false, "zero": false}, "axis": {"orient": "bottom", "title": null, "values": [-2,-1.5,-1,-0.5,0,0.5,1,1.5,2,2.5,3], "tickSize": -7, "labels": true, "format": ".1f", "labelPadding": 17}},
"y": {"field": "y", "type": "quantitative", "scale": {"domain": [0, 5.9], "nice": false}, "axis": {"orient": "left", "title": null, "values": [0,2,4], "tickSize": -7, "labels": true, "format": "d", "labelPadding": 21}},
"color": {"field": "s", "type": "nominal", "scale": {"domain": ["total","Ru","I"], "range": ["#1a0d8f","#c40bf2","#96ae48"]}, "legend": {"orient": "none", "direction": "vertical", "legendX": 273, "legendY": 60, "title": null, "symbolType": "stroke", "symbolStrokeWidth": 3.5, "symbolSize": 121, "labelFontSize": 23, "labelColor": "black", "labelAlign": "right", "labelOffset": -30, "rowPadding": 7.5}}
}},
{"mark": {"type": "line", "opacity": 0},
"encoding": {
"x": {"field": "x", "type": "quantitative", "scale": {"domain": [-2, 3], "nice": false, "zero": false}, "axis": {"orient": "top", "title": null, "values": [-2,-1.5,-1,-0.5,0,0.5,1,1.5,2,2.5,3], "tickSize": -7}},
"y": {"field": "y", "type": "quantitative", "scale": {"domain": [0, 5.9], "nice": false}, "axis": {"orient": "right", "title": null, "values": [0,2,4], "tickSize": -7}}
}},
{"mark": {"type": "line", "opacity": 0},
"encoding": {
"x": {"field": "x", "type": "quantitative", "scale": {"domain": [-2, 3], "nice": false, "zero": false}, "axis": {"orient": "bottom", "title": null, "values": [-2,-1.9,-1.8,-1.7,-1.6,-1.5,-1.4,-1.3,-1.2,-1.1,-1,-0.9,-0.8,-0.7,-0.6,-0.5,-0.4,-0.3,-0.2,-0.1,0,0.1,0.2,0.3,0.4,0.5,0.6,0.7,0.8,0.9,1,1.1,1.2,1.3,1.4,1.5,1.6,1.7,1.8,1.9,2,2.1,2.2,2.3,2.4,2.5,2.6,2.7,2.8,2.9,3], "tickSize": -4}},
"y": {"field": "y", "type": "quantitative", "scale": {"domain": [0, 5.9], "nice": false}, "axis": {"orient": "left", "title": null, "values": [0,0.4,0.8,1.2,1.6,2,2.4,2.8,3.2,3.6,4,4.4,4.8,5.2,5.6], "tickSize": -4}}
}},
{"mark": {"type": "line", "opacity": 0},
"encoding": {
"x": {"field": "x", "type": "quantitative", "scale": {"domain": [-2, 3], "nice": false, "zero": false}, "axis": {"orient": "top", "title": null, "values": [-2,-1.9,-1.8,-1.7,-1.6,-1.5,-1.4,-1.3,-1.2,-1.1,-1,-0.9,-0.8,-0.7,-0.6,-0.5,-0.4,-0.3,-0.2,-0.1,0,0.1,0.2,0.3,0.4,0.5,0.6,0.7,0.8,0.9,1,1.1,1.2,1.3,1.4,1.5,1.6,1.7,1.8,1.9,2,2.1,2.2,2.3,2.4,2.5,2.6,2.7,2.8,2.9,3], "tickSize": -4}},
"y": {"field": "y", "type": "quantitative", "scale": {"domain": [0, 5.9], "nice": false}, "axis": {"orient": "right", "title": null, "values": [0,0.4,0.8,1.2,1.6,2,2.4,2.8,3.2,3.6,4,4.4,4.8,5.2,5.6], "tickSize": -4}}
}},
{"data": {"name": "one"}, "mark": {"type": "rule", "strokeDash": [3.5, 3], "strokeWidth": 1.6, "color": "black"},
"encoding": {"x": {"datum": 0, "type": "quantitative", "scale": {"domain": [-2, 3], "nice": false, "zero": false}, "axis": null}}},
{"data": {"name": "one"}, "mark": {"type": "text", "text": "c", "fontWeight": "bold", "fontSize": 23, "align": "left", "baseline": "alphabetic", "color": "black"},
"encoding": {"x": {"datum": -1.84, "type": "quantitative", "scale": {"domain": [-2, 3], "nice": false, "zero": false}, "axis": null}, "y": {"datum": 5.18, "type": "quantitative", "scale": {"domain": [0, 5.9], "nice": false}, "axis": null}}},
{"data": {"name": "one"}, "mark": {"type": "text", "text": "RuI₃", "fontSize": 23, "align": "left", "baseline": "alphabetic", "color": "black"},
"encoding": {"x": {"datum": -1.645, "type": "quantitative", "scale": {"domain": [-2, 3], "nice": false, "zero": false}, "axis": null}, "y": {"datum": 5.18, "type": "quantitative", "scale": {"domain": [0, 5.9], "nice": false}, "axis": null}}},
{"data": {"name": "one"}, "mark": {"type": "text", "text": "E − E", "fontStyle": "italic", "fontSize": 23, "align": "right", "baseline": "alphabetic", "color": "black"},
"encoding": {"x": {"datum": 0.48, "type": "quantitative", "scale": {"domain": [-2, 3], "nice": false, "zero": false}, "axis": null}, "y": {"datum": -1.54, "type": "quantitative", "scale": {"domain": [0, 5.9], "nice": false}, "axis": null}}},
{"data": {"name": "one"}, "mark": {"type": "text", "text": "F", "fontSize": 16, "align": "left", "baseline": "alphabetic", "dy": 3, "color": "black"},
"encoding": {"x": {"datum": 0.485, "type": "quantitative", "scale": {"domain": [-2, 3], "nice": false, "zero": false}, "axis": null}, "y": {"datum": -1.54, "type": "quantitative", "scale": {"domain": [0, 5.9], "nice": false}, "axis": null}}},
{"data": {"name": "one"}, "mark": {"type": "text", "text": "(eV)", "fontSize": 23, "align": "left", "baseline": "alphabetic", "color": "black"},
"encoding": {"x": {"datum": 0.657, "type": "quantitative", "scale": {"domain": [-2, 3], "nice": false, "zero": false}, "axis": null}, "y": {"datum": -1.54, "type": "quantitative", "scale": {"domain": [0, 5.9], "nice": false}, "axis": null}}}
]
}
]
}
